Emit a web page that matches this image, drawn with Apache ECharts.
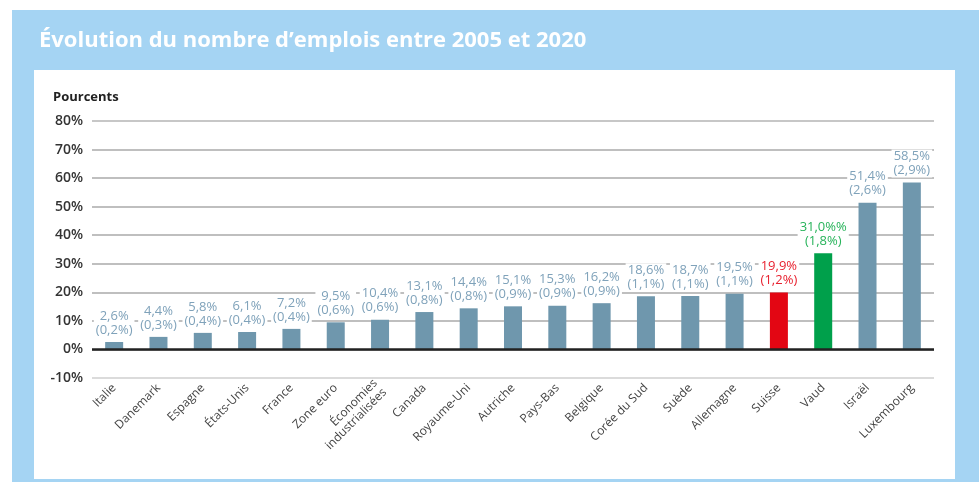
<!DOCTYPE html>
<html>
<head>
<meta charset="utf-8">
<script src="https://cdn.jsdelivr.net/npm/echarts@6/dist/echarts.min.js"></script>
<style>
  html, body { margin: 0; padding: 0; background: #fff; }
  #blue { position: absolute; left: 12px; top: 10px; width: 967px; height: 472px; background: #a5d4f3; }
  #card { position: absolute; left: 34px; top: 70px; width: 921px; height: 409px; background: #fff; }
  #chart { position: absolute; left: 0; top: 0; width: 979px; height: 482px; }
</style>
</head>
<body>
<div id="blue"></div>
<div id="card"></div>
<div id="chart"></div>
<script>
// pays / régions
const categories = ['Italie', 'Danemark', 'Espagne', 'États-Unis', 'France', 'Zone euro',
  'Économies\nindustrialisées', 'Canada', 'Royaume-Uni', 'Autriche', 'Pays-Bas', 'Belgique',
  'Corée du Sud', 'Suède', 'Allemagne', 'Suisse', 'Vaud', 'Israël', 'Luxembourg'];

// hauteur des barres (en %)
const values = [2.6, 4.4, 5.8, 6.1, 7.2, 9.5, 10.4, 13.1, 14.4, 15.1, 15.3, 16.2,
  18.6, 18.7, 19.5, 19.9, 33.7, 51.4, 58.5];

// étiquettes affichées au-dessus des barres
const pctLabels = ['2,6%', '4,4%', '5,8%', '6,1%', '7,2%', '9,5%', '10,4%', '13,1%', '14,4%',
  '15,1%', '15,3%', '16,2%', '18,6%', '18,7%', '19,5%', '19,9%', '31,0%%', '51,4%', '58,5%'];
const annualLabels = ['(0,2%)', '(0,3%)', '(0,4%)', '(0,4%)', '(0,4%)', '(0,6%)', '(0,6%)',
  '(0,8%)', '(0,8%)', '(0,9%)', '(0,9%)', '(0,9%)', '(1,1%)', '(1,1%)', '(1,1%)', '(1,2%)',
  '(1,8%)', '(2,6%)', '(2,9%)'];

// axe Y
const yTicks = [-10, 0, 10, 20, 30, 40, 50, 60, 70, 80];

const barColor = '#6f97ad';
const labelColor = '#7fa2ba';
const highlight = { 'Suisse': '#e30613', 'Vaud': '#00a04b' };
const highlightLabel = { 'Suisse': '#e8202e', 'Vaud': '#27b35a' };

const chart = echarts.init(document.getElementById('chart'));

const seriesData = values.map((v, i) => {
  const name = categories[i];
  return {
    value: v,
    itemStyle: { color: highlight[name] || barColor },
    label: { color: highlightLabel[name] || labelColor },
  };
});

chart.setOption({
  animation: false,
  textStyle: { fontFamily: '"Open Sans", sans-serif' },
  title: {
    text: 'Évolution du nombre d’emplois entre 2005 et 2020',
    left: 34,
    top: 25,
    textStyle: { color: '#fff', fontSize: 22, fontWeight: 'bold', fontFamily: '"Open Sans", sans-serif' },
  },
  graphic: [{
    type: 'text',
    left: 53,
    top: 91,
    style: { text: 'Pourcents', fill: '#222', font: 'bold 13px "Open Sans", sans-serif' },
  }],
  grid: { left: 92, right: 45, top: 121, bottom: 104 },
  xAxis: {
    type: 'category',
    data: categories,
    axisLine: { show: false, onZero: false },
    axisTick: { show: false },
    axisLabel: {
      interval: 0,
      rotate: 45,
      margin: 8,
      color: '#444',
      fontSize: 12,
      lineHeight: 13,
    },
  },
  yAxis: {
    type: 'value',
    min: yTicks[0],
    max: yTicks[yTicks.length - 1],
    interval: 10,
    axisLine: { show: false },
    axisTick: { show: false },
    axisLabel: {
      formatter: '{value}%',
      color: '#333',
      fontSize: 14,
      fontWeight: 600,
      margin: 9,
    },
    splitLine: {
      lineStyle: {
        color: ['#cfcfcf', '#aaa', '#aaa', '#aaa', '#aaa', '#aaa', '#aaa', '#aaa', '#aaa', '#b5b5b5'],
        width: 1.5,
      },
    },
  },
  series: [{
    type: 'bar',
    data: seriesData,
    barWidth: 18,
    label: {
      show: true,
      position: 'top',
      distance: 5,
      fontSize: 13,
      lineHeight: 14,
      backgroundColor: '#fff',
      padding: [0, 2],
      formatter: (p) => pctLabels[p.dataIndex] + '\n' + annualLabels[p.dataIndex],
    },
    markLine: {
      silent: true,
      symbol: 'none',
      label: { show: false },
      lineStyle: { color: '#222', width: 2.5, type: 'solid' },
      data: [{ yAxis: 0 }],
    },
  }],
});
</script>
</body>
</html>
